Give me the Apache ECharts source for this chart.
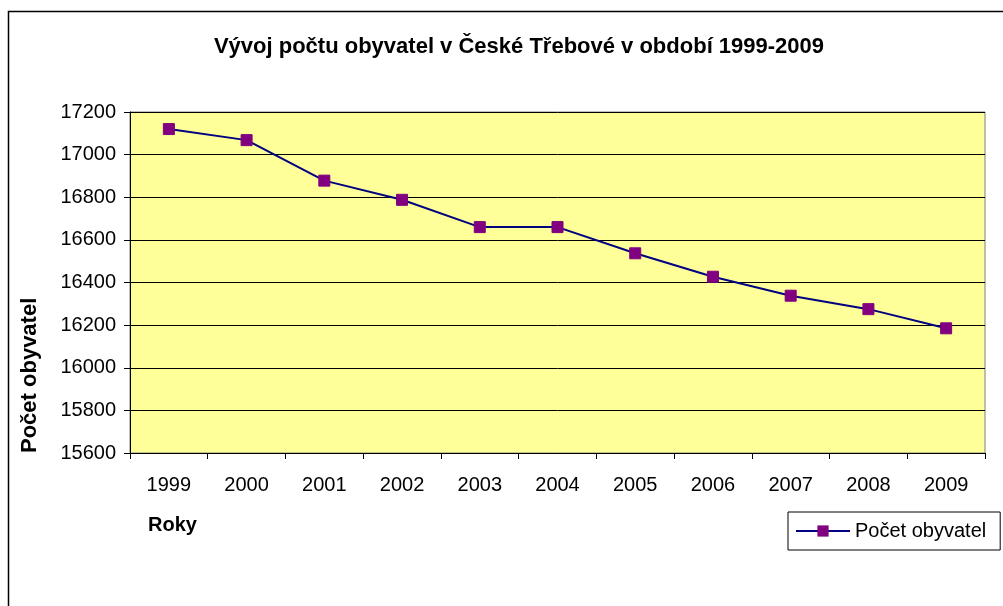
<!DOCTYPE html>
<html lang="cs">
<head>
    <meta charset="UTF-8">
    <title>Vývoj počtu obyvatel v České Třebové</title>
    <script src="https://cdn.jsdelivr.net/npm/echarts@6/dist/echarts.min.js"></script>
    <style>
        html, body { margin: 0; padding: 0; background: #fff; }
    </style>
</head>
<body>
    <div id="main" style="width: 1003px; height: 606px;"></div>

    <script>
        // data
        var roky = ['1999', '2000', '2001', '2002', '2003', '2004', '2005', '2006', '2007', '2008', '2009'];
        var pocetObyvatel = [17120, 17068, 16878, 16788, 16660, 16660, 16537, 16427, 16338, 16275, 16185];
        var osaY = { min: 15600, max: 17200, interval: 200 };

        var font = '"Liberation Sans", Arial, sans-serif';
        var myChart = echarts.init(document.getElementById('main'));

        var option = {
            animation: false,
            textStyle: { fontFamily: font, color: '#000' },
            title: {
                text: 'Vývoj počtu obyvatel v České Třebové v období 1999-2009',
                left: 514,
                textAlign: 'center',
                top: 31,
                textStyle: { fontFamily: font, fontSize: 22, fontWeight: 'bold', color: '#000' }
            },
            // ramecek grafu jako v Excelu
            graphic: [
                {
                    type: 'rect',
                    shape: { x: 8.5, y: 11.5, width: 1010, height: 620 },
                    style: { fill: 'none', stroke: '#000', lineWidth: 1.5 },
                    silent: true
                },
                {
                    type: 'text',
                    left: 148,
                    top: 515,
                    style: { text: 'Roky', font: 'bold 20px ' + font, fill: '#000' }
                },
                {
                    type: 'text',
                    x: 19,
                    y: 453,
                    rotation: Math.PI / 2,
                    style: { text: 'Počet obyvatel', font: 'bold 22px ' + font, fill: '#000' }
                }
            ],
            legend: {
                left: 788,
                top: 512,
                padding: [9, 14, 9, 7],
                itemWidth: 54,
                itemHeight: 14,
                itemGap: 4,
                borderColor: '#000',
                borderWidth: 1,
                borderRadius: 0,
                textStyle: { fontFamily: font, fontSize: 20, color: '#000' },
                data: ['Počet obyvatel']
            },
            grid: {
                left: 130,
                right: 18,
                top: 112,
                bottom: 153,
                show: true,
                backgroundColor: '#FFFF99',
                borderColor: '#808080',
                borderWidth: 1
            },
            xAxis: {
                type: 'category',
                data: roky,
                boundaryGap: true,
                axisLine: { lineStyle: { color: '#000', width: 1 } },
                axisTick: { show: true, alignWithLabel: false, length: 6, lineStyle: { color: '#000' } },
                axisLabel: { fontSize: 20, color: '#000', margin: 22, fontFamily: font }
            },
            yAxis: {
                type: 'value',
                min: osaY.min,
                max: osaY.max,
                interval: osaY.interval,
                axisLine: { show: true, lineStyle: { color: '#000', width: 1 } },
                axisTick: { show: true, length: 6, lineStyle: { color: '#000' } },
                axisLabel: {
                    fontSize: 20, color: '#000', margin: 14, fontFamily: font,
                    formatter: function (v) { return String(v); }
                },
                splitLine: { show: true, lineStyle: { color: '#000', width: 1 } }
            },
            series: [
                {
                    name: 'Počet obyvatel',
                    type: 'line',
                    data: pocetObyvatel,
                    symbol: 'rect',
                    symbolSize: 11,
                    lineStyle: { color: '#000080', width: 2 },
                    itemStyle: { color: '#800080', borderColor: '#800080' }
                }
            ]
        };

        myChart.setOption(option);
    </script>
</body>
</html>
